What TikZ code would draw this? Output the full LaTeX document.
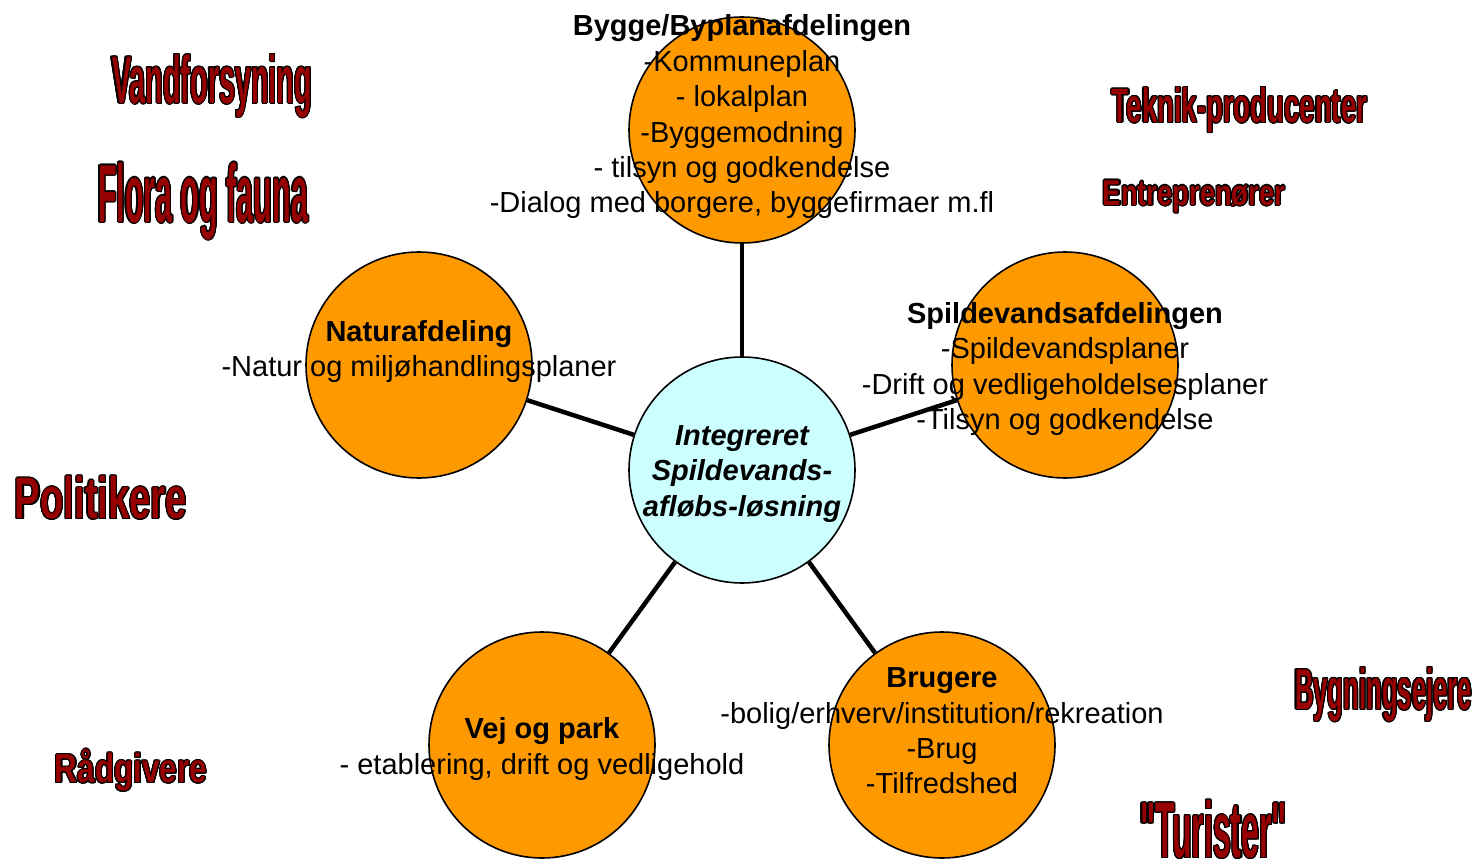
\documentclass[tikz,border=0pt]{standalone}
\usepackage{fontspec}
\setmainfont{Liberation Sans}
\newfontfamily\wafont{Liberation Sans}
\usepackage{graphicx}
\usepackage{contour}
\contourlength{1.1pt}
\definecolor{wordred}{RGB}{150,0,0}
\definecolor{circorange}{RGB}{255,153,0}
\definecolor{circcyan}{RGB}{204,255,255}
\newcommand{\wordart}[3]{{\color{wordred}\contour{black}{\resizebox*{#1}{#2}{\wafont\bfseries #3}}}}
\tikzset{
  unit/.style={draw=black, line width=1.6pt, circle, minimum size=226pt, inner sep=0pt, fill=circorange},
  hub/.style={unit, fill=circcyan},
  link/.style={line width=4.5pt, draw=black},
  txt/.style={align=center, inner sep=0pt, font=\fontsize{29}{35.4}\selectfont},
  wa/.style={inner sep=0pt}
}
\begin{document}
\begin{tikzpicture}[x=1pt, y=-1pt]
\useasboundingbox (0,0) rectangle (1474,866);
% circles
\node[hub]  (c0) at (742,470) {};
\node[unit] (c1) at (742,130) {};
\node[unit] (c2) at (419,365) {};
\node[unit] (c3) at (1065,365) {};
\node[unit] (c4) at (542,745) {};
\node[unit] (c5) at (942,745) {};
% connectors
\draw[link] (c0) -- (c1);
\draw[link] (c0) -- (c2);
\draw[link] (c0) -- (c3);
\draw[link] (c0) -- (c4);
\draw[link] (c0) -- (c5);
% texts
\node[txt] (t0) at (742,474) {\bfseries\itshape Integreret\\\bfseries\itshape Spildevands-\\\bfseries\itshape afløbs-løsning};
\node[txt] (t1) at (742,117) {\bfseries Bygge/Byplanafdelingen\\-Kommuneplan\\- lokalplan\\-Byggemodning\\- tilsyn og godkendelse\\-Dialog med borgere, byggefirmaer m.fl};
\node[txt] (t2) at (419,351.5) {\bfseries Naturafdeling\\-Natur og miljøhandlingsplaner};
\node[txt] (t3) at (1065,369) {\bfseries Spildevandsafdelingen\\-Spildevandsplaner\\-Drift og vedligeholdelsesplaner\\-Tilsyn og godkendelse};
\node[txt] (t4) at (542,749) {\bfseries Vej og park\\- etablering, drift og vedligehold};
\node[txt] (t5) at (942,731) {\bfseries Brugere\\-bolig/erhverv/institution/rekreation\\-Brug\\-Tilfredshed};
% word art labels
\node[wa] (w1) at (212,86.5) {\wordart{200pt}{63pt}{Vandforsyning}};
\node[wa] (w2) at (203,201.5) {\wordart{210pt}{77pt}{Flora og fauna}};
\node[wa] (w3) at (1239.5,110.5) {\wordart{255pt}{45pt}{Teknik-producenter}};
\node[wa] (w4) at (1194,197) {\wordart{182pt}{32pt}{Entreprenører}};
\node[wa] (w5) at (101,498.5) {\wordart{172pt}{43pt}{Politikere}};
\node[wa] (w6) at (131,771) {\wordart{152pt}{42pt}{Rådgivere}};
\node[wa] (w7) at (1383.5,695) {\wordart{177pt}{54pt}{Bygningsejere}};
\node[wa] (w8) at (1213.5,830) {\wordart{147pt}{58pt}{"Turister"}};
\end{tikzpicture}
\end{document}
